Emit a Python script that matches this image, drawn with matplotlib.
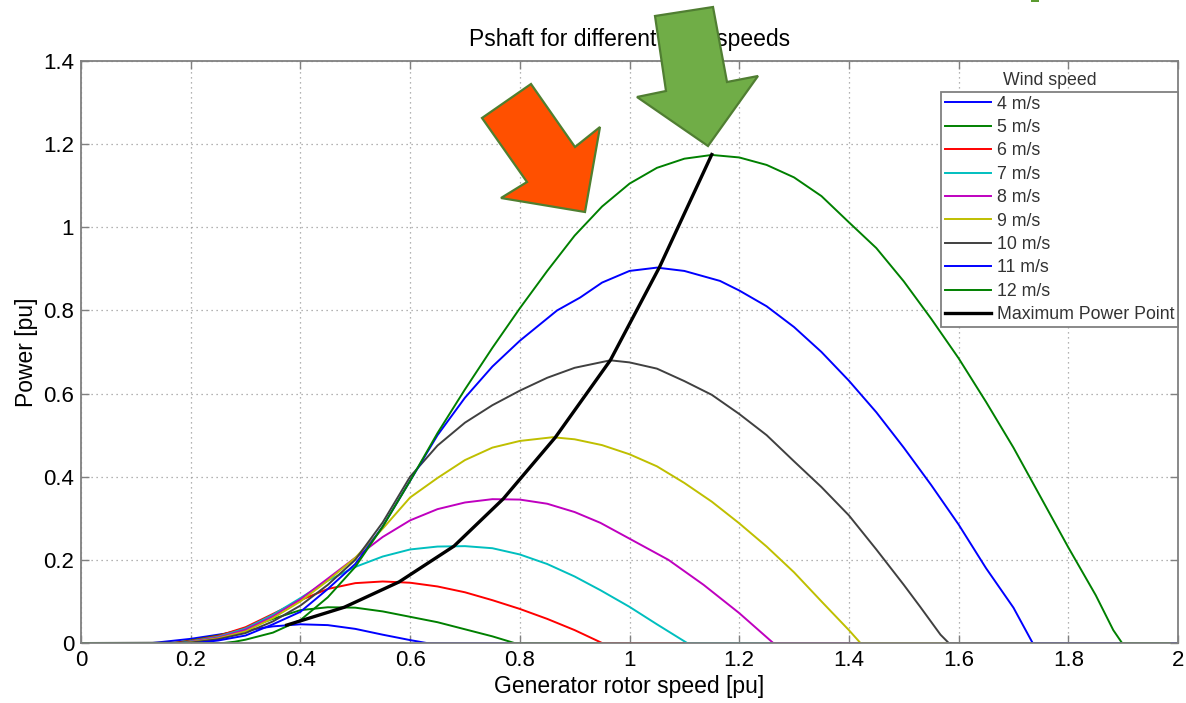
import numpy as np
import matplotlib
matplotlib.use('Agg')
import matplotlib.pyplot as plt
from matplotlib.patches import Polygon, Rectangle
from matplotlib.ticker import FormatStrFormatter

plt.rcParams['font.family'] = ['Liberation Sans', 'DejaVu Sans']

# Shaft power (pu) against generator rotor speed (pu)
w4_x = [0.0, 0.13, 0.2, 0.25, 0.3, 0.35, 0.4, 0.45, 0.5, 0.55, 0.6, 0.63, 2.0]
w4_p = [0.0, 0.0, 0.01, 0.02, 0.03, 0.04, 0.045, 0.043, 0.034, 0.02, 0.007, 0.0, 0.0]

w5_x = [0.0, 0.17, 0.2, 0.25, 0.3, 0.35, 0.4, 0.45, 0.5, 0.55, 0.6, 0.65, 0.7, 0.75, 0.79, 2.0]
w5_p = [0.0, 0.0, 0.006, 0.018, 0.035, 0.058, 0.079, 0.086, 0.085, 0.076, 0.063, 0.05, 0.033, 0.016, 0.0, 0.0]

w6_x = [0.0, 0.17, 0.2, 0.25, 0.3, 0.35, 0.4, 0.45, 0.5, 0.55, 0.6, 0.65, 0.7, 0.75, 0.8, 0.85, 0.9, 0.95, 2.0]
w6_p = [0.0, 0.0, 0.005, 0.017, 0.038, 0.07, 0.103, 0.13, 0.144, 0.148, 0.145, 0.136, 0.122, 0.103,
        0.082, 0.058, 0.031, 0.0, 0.0]

w7_x = [0.0, 0.18, 0.2, 0.25, 0.3, 0.35, 0.4, 0.45, 0.5, 0.55, 0.6, 0.65, 0.7, 0.75, 0.8, 0.85,
        0.9, 0.947, 1.0, 1.05, 1.105, 2.0]
w7_p = [0.0, 0.0, 0.004, 0.015, 0.035, 0.068, 0.108, 0.15, 0.183, 0.208, 0.225, 0.232, 0.233, 0.228,
        0.213, 0.19, 0.16, 0.127, 0.087, 0.045, 0.0, 0.0]

w8_x = [0.0, 0.19, 0.2, 0.25, 0.3, 0.35, 0.4, 0.45, 0.5, 0.55, 0.6, 0.65, 0.7, 0.75, 0.8, 0.85,
        0.9, 0.947, 1.0, 1.071, 1.135, 1.2, 1.262, 2.0]
w8_p = [0.0, 0.0, 0.003, 0.013, 0.032, 0.064, 0.105, 0.155, 0.205, 0.255, 0.295, 0.322, 0.338, 0.346,
        0.345, 0.335, 0.315, 0.289, 0.251, 0.2, 0.14, 0.072, 0.0, 0.0]

w9_x = [0.0, 0.19, 0.2, 0.25, 0.3, 0.35, 0.4, 0.45, 0.5, 0.55, 0.6, 0.65, 0.7, 0.75, 0.8,
        0.86, 0.9, 0.95, 1.0, 1.05, 1.1, 1.15, 1.2, 1.25, 1.3, 1.35, 1.4, 1.421, 2.0]
w9_p = [0.0, 0.0, 0.002, 0.011, 0.028, 0.06, 0.1, 0.15, 0.205, 0.275, 0.35, 0.397, 0.44,
        0.47, 0.486, 0.495, 0.49, 0.476, 0.454, 0.425, 0.385, 0.34, 0.288, 0.232, 0.17, 0.1, 0.031, 0.0, 0.0]

w10_x = [0.0, 0.2, 0.25, 0.3, 0.35, 0.4, 0.45, 0.5, 0.55, 0.6, 0.65, 0.7, 0.75, 0.8, 0.85, 0.9,
         0.965, 1.0, 1.05, 1.1, 1.15, 1.2, 1.25, 1.3, 1.35, 1.4, 1.45, 1.5, 1.53, 1.567, 1.582, 2.0]
w10_p = [0.0, 0.001, 0.009, 0.024, 0.052, 0.09, 0.14, 0.2, 0.29, 0.4, 0.475, 0.53, 0.572, 0.607,
         0.638, 0.662, 0.68, 0.675, 0.66, 0.63, 0.597, 0.551, 0.5, 0.437, 0.375, 0.307, 0.225, 0.14,
         0.087, 0.02, 0.0, 0.0]

w11_x = [0.0, 0.21, 0.25, 0.3, 0.35, 0.4, 0.45, 0.5, 0.55, 0.6, 0.65, 0.7, 0.75, 0.8, 0.868, 0.91,
         0.95, 1.0, 1.05, 1.1, 1.165, 1.2, 1.25, 1.3, 1.35, 1.4, 1.45, 1.5, 1.55, 1.6, 1.65, 1.7,
         1.735, 2.0]
w11_p = [0.0, 0.0, 0.006, 0.018, 0.045, 0.075, 0.13, 0.19, 0.28, 0.39, 0.5, 0.59, 0.665, 0.727,
         0.8, 0.831, 0.867, 0.895, 0.903, 0.895, 0.871, 0.848, 0.81, 0.76, 0.7, 0.631, 0.555, 0.47,
         0.38, 0.285, 0.18, 0.085, 0.0, 0.0]

w12_x = [0.0, 0.26, 0.28, 0.3, 0.35, 0.4, 0.45, 0.5, 0.55, 0.6, 0.65, 0.7, 0.75, 0.8, 0.85, 0.9,
         0.95, 1.0, 1.05, 1.1, 1.15, 1.2, 1.25, 1.3, 1.35, 1.4, 1.45, 1.5, 1.55, 1.6, 1.65, 1.7,
         1.75, 1.8, 1.85, 1.882, 1.898, 1.985]
w12_p = [0.0, 0.0, 0.003, 0.008, 0.025, 0.055, 0.11, 0.183, 0.28, 0.39, 0.505, 0.61, 0.71, 0.805,
         0.895, 0.98, 1.05, 1.105, 1.143, 1.165, 1.174, 1.168, 1.15, 1.12, 1.075, 1.012, 0.95, 0.87,
         0.78, 0.685, 0.58, 0.47, 0.35, 0.23, 0.115, 0.031, 0.0, 0.0]

mpp_x = [0.375, 0.48, 0.58, 0.68, 0.77, 0.865, 0.965, 1.055, 1.15]
mpp_p = [0.043, 0.086, 0.147, 0.233, 0.347, 0.495, 0.68, 0.905, 1.175]

labels = ['4 m/s', '5 m/s', '6 m/s', '7 m/s', '8 m/s', '9 m/s', '10 m/s', '11 m/s', '12 m/s']

# MATLAB default-ish line colours
colors = ['#0000ff', '#008000', '#ff0000', '#00bfbf', '#bf00bf', '#bfbf00', '#404040', '#0000ff', '#008000']

# overlay arrows, figure pixel coordinates (drawn on a slide over the chart)
orange_arrow = [(531, 84), (482, 118), (527, 182), (501, 198), (585, 212), (600, 127), (575, 147)]
green_arrow = [(655, 16), (713, 7), (727, 82), (758, 76), (708, 146), (637, 97), (666, 91)]

W, H = 1186, 703
fig = plt.figure(figsize=(W / 100.0, H / 100.0), dpi=100)
ax = fig.add_axes([81.0 / W, 60.0 / H, 1097.0 / W, 582.0 / H])

series = [(w4_x, w4_p), (w5_x, w5_p), (w6_x, w6_p), (w7_x, w7_p), (w8_x, w8_p),
          (w9_x, w9_p), (w10_x, w10_p), (w11_x, w11_p), (w12_x, w12_p)]
for (xs, ps), lab, col in zip(series, labels, colors):
    ax.plot(xs, ps, color=col, linewidth=1.4, label=lab)
ax.plot(mpp_x, mpp_p, color='black', linewidth=2.4, label='Maximum Power Point')

ax.set_xlim(0, 2)
ax.set_ylim(0, 1.4)
ax.set_xticks(np.arange(0, 2.01, 0.2))
ax.set_yticks(np.arange(0, 1.41, 0.2))
ax.xaxis.set_major_formatter(FormatStrFormatter('%g'))
ax.yaxis.set_major_formatter(FormatStrFormatter('%g'))
ax.tick_params(direction='in', length=6, width=1.0, color='#808080', labelsize=16,
               top=True, right=True, pad=5)
ax.grid(True, linestyle=(0, (1, 3)), color='#9a9a9a', linewidth=0.9)
for sp in ax.spines.values():
    sp.set_color('#808080')
    sp.set_linewidth(1.3)

ax.set_title('Pshaft for different wind speeds', fontsize=16.5, pad=11)
ax.set_xlabel('Generator rotor speed [pu]', fontsize=16.5, labelpad=3)
ax.set_ylabel('Power [pu]', fontsize=16.5, labelpad=4)

leg = ax.legend(loc='upper right', bbox_to_anchor=(1.0, 0.9467), borderaxespad=0,
                fontsize=12.8, handlelength=2.6, handletextpad=0.35, labelspacing=0.36,
                borderpad=0.2, fancybox=False, framealpha=1, edgecolor='#808080')
leg.get_frame().set_linewidth(1.3)
for t in leg.get_texts():
    t.set_color('#333333')
ax.text(0.883, 0.966, 'Wind speed', transform=ax.transAxes, ha='center', va='center',
        fontsize=12.8, color='#333333')

def to_fig(pts):
    return [(x / float(W), 1 - y / float(H)) for x, y in pts]

fig.add_artist(Polygon(to_fig(orange_arrow), closed=True, facecolor='#ff5000',
                       edgecolor='#4f7f2f', linewidth=1.6, zorder=10))
fig.add_artist(Polygon(to_fig(green_arrow), closed=True, facecolor='#70ad47',
                       edgecolor='#507e32', linewidth=1.6, zorder=10))
fig.add_artist(Rectangle((1031.0 / W, 1 - 2.0 / H), 8.0 / W, 2.0 / H, facecolor='#5b9a30',
                         edgecolor='none', zorder=10))

plt.savefig('out.png', dpi=100)
plt.close(fig)
